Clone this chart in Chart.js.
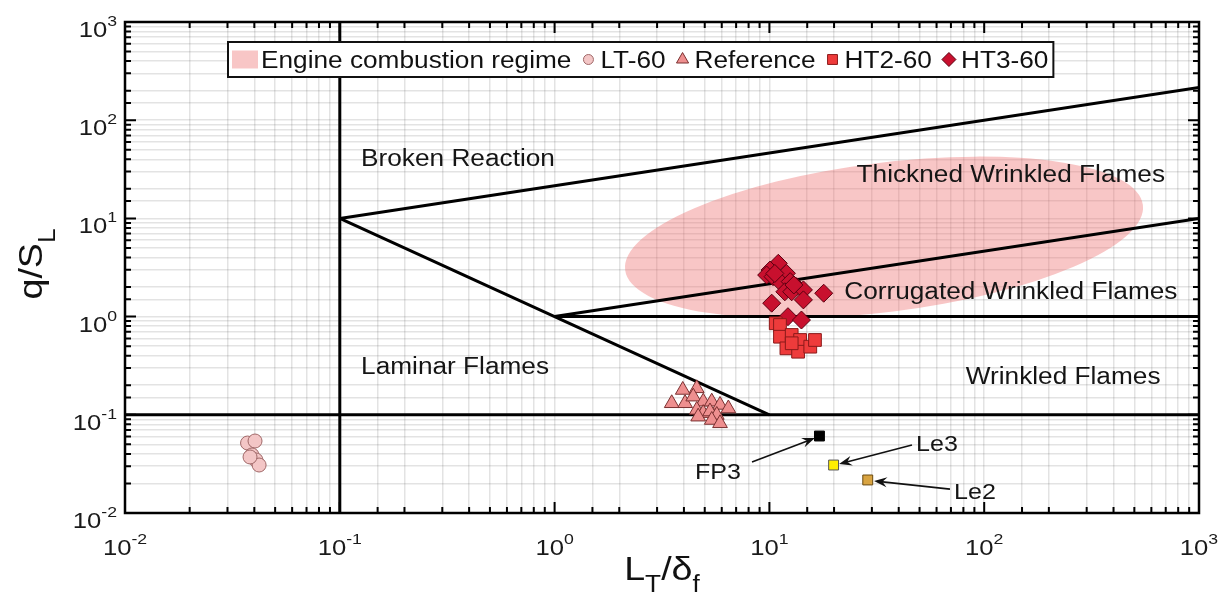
<!DOCTYPE html>
<html>
<head>
<meta charset="utf-8">
<script src="https://cdn.jsdelivr.net/npm/chart.js@4.4.1/dist/chart.umd.min.js"></script>
<style>
html,body{margin:0;padding:0;background:#fff;}
#wrap{width:1224px;height:603px;position:relative;}
</style>
</head>
<body>
<div id="wrap"><canvas id="c" width="1224" height="603"></canvas></div>
<script>
// ---------------- DATA ----------------
const xTickExponents = [-2, -1, 0, 1, 2, 3];
const yTickExponents = [-2, -1, 0, 1, 2, 3];

// LT-60 (circles)
const lt60X = [0.0372, 0.0403, 0.0390, 0.0407, 0.0421, 0.0382];
const lt60Y = [0.0516, 0.0541, 0.0390, 0.0347, 0.0308, 0.0372];

// Reference (triangles)
const refX = [3.51, 4.05, 3.95, 4.59, 4.42, 4.92, 5.39, 5.89, 6.44, 4.59, 4.92, 5.29, 5.69, 4.66, 5.39, 5.89];
const refY = [0.131, 0.131, 0.179, 0.186, 0.153, 0.136, 0.136, 0.126, 0.116, 0.112, 0.104, 0.108, 0.0995, 0.0957, 0.0885, 0.0819];

// HT2-60 (squares)
const ht2X = [10.7, 11.2, 11.2, 12.7, 13.9, 12.0, 13.6, 15.5, 16.3, 12.7];
const ht2Y = [0.855, 0.821, 0.624, 0.650, 0.578, 0.475, 0.439, 0.494, 0.578, 0.535];

// HT3-60 (diamonds)
const ht3X = [11.0, 10.07, 9.71, 10.4, 12.0, 11.4, 12.5, 13.4, 11.8, 12.7, 14.4, 14.4, 17.9, 10.25, 12.2, 14.1, 10.6, 13.0];
const ht3Y = [3.49, 2.98, 2.65, 2.55, 2.76, 2.18, 2.27, 2.02, 1.79, 1.79, 1.87, 1.48, 1.73, 1.37, 0.998, 0.923, 2.75, 2.1];

// Single markers
const fp3X = [17.1], fp3Y = [0.0608];
const le3X = [19.9], le3Y = [0.0308];
const le2X = [28.7], le2Y = [0.0217];

// Regime boundary lines
const vLineX = [0.1, 0.1],        vLineY = [0.01, 1000];
const laminarLineX = [0.01, 1000], laminarLineY = [0.1, 0.1];
const reLineX = [0.1, 10],        reLineY = [10, 0.1];
const ka100LineX = [0.1, 1000],   ka100LineY = [10, 215];
const ka1LineX = [1, 1000],       ka1LineY = [1, 10];
const unityLineX = [1, 1000],     unityLineY = [1, 1];

// Engine combustion regime ellipse (tips in data space, half-height in decades)
const ellipseTipX = [2.13, 548];
const ellipseTipY = [2.98, 13.7];
const ellipseHalfMinorDecades = 0.76;

// Region labels
const regionLabels = ['Broken Reaction', 'Thickned Wrinkled Flames', 'Corrugated Wrinkled Flames', 'Laminar Flames', 'Wrinkled Flames'];
const regionLabelX = [0.355, 133, 133, 0.344, 233];
const regionLabelY = [41.2, 28.3, 1.82, 0.314, 0.248];

// Arrow annotations
const annotLabels = ['FP3', 'Le3', 'Le2'];
const annotLabelX = [5.76, 60.3, 90.6];
const annotLabelY = [0.0268, 0.0516, 0.0168];
const arrowTailX = [8.3, 46.1, 69.3];
const arrowTailY = [0.033, 0.0492, 0.0175];
const arrowHeadX = [16.3, 21.1, 30.7];
const arrowHeadY = [0.058, 0.0315, 0.0212];

// Legend labels
const legendLabels = ['Engine combustion regime', 'LT-60', 'Reference', 'HT2-60', 'HT3-60'];

// ---------------- HELPERS ----------------
const FONT = '"Liberation Sans", Arial, Helvetica, sans-serif';
const SX = 1.14;
function zip(xs, ys) { return xs.map((x, i) => ({x: x, y: ys[i]})); }
function textW(ctx, s, size) {
  ctx.save(); ctx.font = size + 'px ' + FONT;
  const w = ctx.measureText(s).width * SX; ctx.restore(); return w;
}
function drawText(ctx, s, x, y, size, align, color) {
  ctx.save();
  ctx.font = size + 'px ' + FONT;
  ctx.textAlign = 'left'; ctx.textBaseline = 'alphabetic';
  ctx.fillStyle = color || '#111';
  const w = ctx.measureText(s).width * SX;
  const x0 = align === 'center' ? x - w / 2 : (align === 'right' ? x - w : x);
  ctx.translate(x0, y); ctx.scale(SX, 1);
  ctx.fillText(s, 0, 0);
  ctx.restore();
  return w;
}
function drawPow(ctx, exp, x, y, align) {
  const base = '10', e = String(exp);
  const wb = textW(ctx, base, 22.5), we = textW(ctx, e, 15.5);
  const tot = wb + we;
  let x0 = align === 'center' ? x - tot / 2 : (align === 'right' ? x - tot : x);
  drawText(ctx, base, x0, y, 22.5, 'left', '#1a1a1a');
  drawText(ctx, e, x0 + wb, y - 11, 15.5, 'left', '#1a1a1a');
}

const lineDs = (xs, ys) => ({
  data: zip(xs, ys), showLine: true, pointRadius: 0, borderColor: '#000',
  borderWidth: 3, fill: false, tension: 0, order: 5
});
const ptDs = (label, xs, ys, style, r, fill, stroke) => ({
  label: label, data: zip(xs, ys), showLine: false, pointStyle: style,
  pointRadius: r, pointBackgroundColor: fill, pointBorderColor: stroke,
  pointBorderWidth: 1, order: 1
});

// ---------------- PLUGINS ----------------
const ellipsePlugin = {
  id: 'ellipse',
  beforeDatasetsDraw(chart) {
    const {ctx, chartArea: a, scales: {x, y}} = chart;
    const x1 = x.getPixelForValue(ellipseTipX[0]), y1 = y.getPixelForValue(ellipseTipY[0]);
    const x2 = x.getPixelForValue(ellipseTipX[1]), y2 = y.getPixelForValue(ellipseTipY[1]);
    const cx = (x1 + x2) / 2, cy = (y1 + y2) / 2;
    const rx = Math.hypot(x2 - x1, y2 - y1) / 2;
    const ry = Math.abs(y.getPixelForValue(1) - y.getPixelForValue(Math.pow(10, ellipseHalfMinorDecades)));
    const rot = Math.atan2(y2 - y1, x2 - x1);
    ctx.save();
    ctx.beginPath(); ctx.rect(a.left, a.top, a.right - a.left, a.bottom - a.top); ctx.clip();
    ctx.beginPath(); ctx.ellipse(cx, cy, rx, ry, rot, 0, Math.PI * 2);
    ctx.fillStyle = 'rgba(236,105,105,0.38)';
    ctx.fill();
    ctx.restore();
  }
};

function arrow(ctx, x1, y1, x2, y2) {
  ctx.save();
  ctx.strokeStyle = '#111'; ctx.fillStyle = '#111'; ctx.lineWidth = 1.6;
  const ang = Math.atan2(y2 - y1, x2 - x1);
  const L = 13, W = 5;
  const bx = x2 - L * Math.cos(ang), by = y2 - L * Math.sin(ang);
  ctx.beginPath(); ctx.moveTo(x1, y1); ctx.lineTo(x2 - 4 * Math.cos(ang), y2 - 4 * Math.sin(ang)); ctx.stroke();
  const px = -Math.sin(ang), py = Math.cos(ang);
  const mx = x2 - (L * 0.65) * Math.cos(ang), my = y2 - (L * 0.65) * Math.sin(ang);
  ctx.beginPath();
  ctx.moveTo(x2, y2);
  ctx.lineTo(bx + W * px, by + W * py);
  ctx.lineTo(mx, my);
  ctx.lineTo(bx - W * px, by - W * py);
  ctx.closePath(); ctx.fill();
  ctx.restore();
}

const decorPlugin = {
  id: 'decor',
  afterDatasetsDraw(chart) {
    const {ctx, scales: {x, y}} = chart;
    regionLabels.forEach((s, i) => {
      drawText(ctx, s, x.getPixelForValue(regionLabelX[i]), y.getPixelForValue(regionLabelY[i]) + 8, 23, 'center', '#151515');
    });
    annotLabels.forEach((s, i) => {
      arrow(ctx, x.getPixelForValue(arrowTailX[i]), y.getPixelForValue(arrowTailY[i]),
                 x.getPixelForValue(arrowHeadX[i]), y.getPixelForValue(arrowHeadY[i]));
      drawText(ctx, s, x.getPixelForValue(annotLabelX[i]), y.getPixelForValue(annotLabelY[i]) + 8, 22, 'center', '#151515');
    });
  },
  afterDraw(chart) {
    const {ctx, chartArea: a, scales: {x, y}} = chart;
    ctx.save();
    ctx.strokeStyle = '#000'; ctx.lineWidth = 2;
    const isMajor = v => Math.abs(Math.log10(v) - Math.round(Math.log10(v))) < 1e-6;
    x.ticks.forEach(t => {
      const px = x.getPixelForValue(t.value);
      const len = isMajor(t.value) ? 11 : 6;
      ctx.beginPath();
      ctx.moveTo(px, a.bottom); ctx.lineTo(px, a.bottom - len);
      ctx.moveTo(px, a.top); ctx.lineTo(px, a.top + len);
      ctx.stroke();
    });
    y.ticks.forEach(t => {
      const py = y.getPixelForValue(t.value);
      const len = isMajor(t.value) ? 11 : 6;
      ctx.beginPath();
      ctx.moveTo(a.left, py); ctx.lineTo(a.left + len, py);
      ctx.moveTo(a.right, py); ctx.lineTo(a.right - len, py);
      ctx.stroke();
    });
    ctx.lineWidth = 2.5;
    ctx.strokeRect(a.left, a.top, a.right - a.left, a.bottom - a.top);
    ctx.restore();

    xTickExponents.forEach(e => drawPow(ctx, e, x.getPixelForValue(Math.pow(10, e)), a.bottom + 42, 'center'));
    yTickExponents.forEach(e => drawPow(ctx, e, a.left - 8, y.getPixelForValue(Math.pow(10, e)) + 15, 'right'));

    // x title: L_T/δ_f
    {
      const parts = [['L', 33, 0], ['T', 23, 12], ['/', 33, 0], ['\u03B4', 33, 0], ['f', 23, 12]];
      let tot = 0; parts.forEach(p => tot += textW(ctx, p[0], p[1]));
      let cx = 662 - tot / 2; const base = 580;
      parts.forEach(p => { cx += drawText(ctx, p[0], cx, base + p[2], p[1], 'left', '#111'); });
    }
    // y title: q/S_L (rotated)
    {
      ctx.save();
      ctx.translate(42, 264);
      ctx.rotate(-Math.PI / 2);
      const parts = [['q/S', 33, 0], ['L', 23, 13]];
      let tot = 0; parts.forEach(p => tot += textW(ctx, p[0], p[1]));
      let cx = -tot / 2;
      parts.forEach(p => { cx += drawText(ctx, p[0], cx, p[2], p[1], 'left', '#111'); });
      ctx.restore();
    }

    // legend
    {
      const bx = 228, by = 42, bh = 35;
      const items = [
        {kind: 'rect', fill: 'rgba(236,105,105,0.38)'},
        {kind: 'circle', fill: '#f3c6c6', stroke: '#a06868'},
        {kind: 'triangle', fill: '#ee8f8f', stroke: '#7a3030'},
        {kind: 'rect2', fill: '#ee3b3b', stroke: '#8b1a1a'},
        {kind: 'rectRot', fill: '#c8102e', stroke: '#5a0010'}
      ];
      let cur = bx + 4;
      const layout = [];
      items.forEach((it, i) => {
        let mx;
        if (it.kind === 'rect') { mx = cur; cur += 26 + 3; }
        else { cur += 17; mx = cur; cur += 12; }
        const tx = cur;
        cur += textW(ctx, legendLabels[i], 23);
        layout.push({mx, tx});
      });
      const bw = cur + 5 - bx;
      ctx.save();
      ctx.fillStyle = '#fff'; ctx.fillRect(bx, by, bw, bh);
      ctx.strokeStyle = '#111'; ctx.lineWidth = 2; ctx.strokeRect(bx, by, bw, bh);
      const cy = by + bh / 2;
      items.forEach((it, i) => {
        const {mx, tx} = layout[i];
        if (it.kind === 'rect') {
          ctx.fillStyle = it.fill; ctx.fillRect(mx, cy - 9, 26, 18);
        } else {
          ctx.fillStyle = it.fill; ctx.strokeStyle = it.stroke; ctx.lineWidth = 1;
          const style = it.kind === 'rect2' ? 'rect' : it.kind;
          const r = it.kind === 'circle' ? 5 : 7;
          Chart.helpers.drawPoint(ctx, {pointStyle: style, radius: r, rotation: 0, borderWidth: 1}, mx, cy);
        }
        drawText(ctx, legendLabels[i], tx, cy + 8, 23, 'left', '#111');
      });
      ctx.restore();
    }
  }
};

// ---------------- CHART ----------------
const gridOpts = {color: 'rgba(0,0,0,0.11)', lineWidth: 1.5, drawTicks: false};
new Chart(document.getElementById('c'), {
  type: 'scatter',
  data: {
    datasets: [
      ptDs('LT-60', lt60X, lt60Y, 'circle', 7, '#f3c6c6', '#a06868'),
      ptDs('Reference', refX, refY, 'triangle', 8.5, '#ee8f8f', '#7a3030'),
      ptDs('HT2-60', ht2X, ht2Y, 'rect', 9, '#ee3b3b', '#8b1a1a'),
      ptDs('HT3-60', ht3X, ht3Y, 'rectRot', 9, '#c8102e', '#5a0010'),
      ptDs('FP3', fp3X, fp3Y, 'rect', 7, '#000000', '#000000'),
      ptDs('Le3', le3X, le3Y, 'rect', 7, '#ffee00', '#555555'),
      ptDs('Le2', le2X, le2Y, 'rect', 7, '#d9a441', '#6b4a10'),
      lineDs(vLineX, vLineY),
      lineDs(laminarLineX, laminarLineY),
      lineDs(reLineX, reLineY),
      lineDs(ka100LineX, ka100LineY),
      lineDs(ka1LineX, ka1LineY),
      lineDs(unityLineX, unityLineY)
    ]
  },
  options: {
    responsive: false,
    devicePixelRatio: 1,
    animation: false,
    events: [],
    layout: {padding: {left: 125, right: 25, top: 22, bottom: 90}},
    plugins: {legend: {display: false}, tooltip: {enabled: false}},
    scales: {
      x: {type: 'logarithmic', min: 0.01, max: 1000, grid: gridOpts, border: {display: false},
          ticks: {display: false}, title: {display: false}},
      y: {type: 'logarithmic', min: 0.01, max: 1000, grid: gridOpts, border: {display: false},
          ticks: {display: false}, title: {display: false}}
    }
  },
  plugins: [ellipsePlugin, decorPlugin]
});
</script>
</body>
</html>
